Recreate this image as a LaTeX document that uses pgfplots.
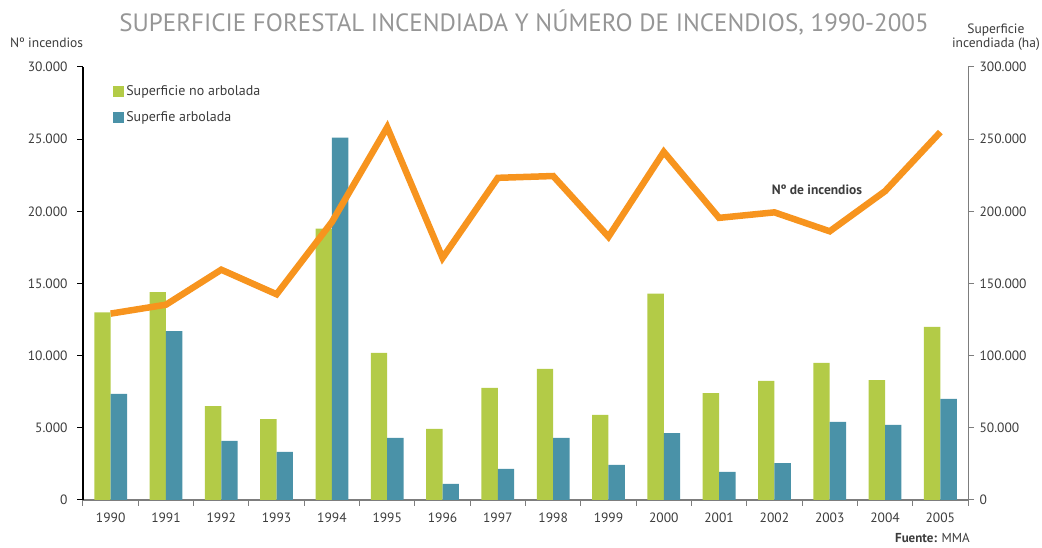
\documentclass[border=0pt]{standalone}
\usepackage{pgfplots}
\pgfplotsset{compat=1.18}
\usepackage{pgfplotstable}
\usepackage{fontspec}
\setmainfont{PT Sans}
\definecolor{cgreen}{RGB}{179,203,71}
\definecolor{cblue}{RGB}{74,146,168}
\definecolor{corange}{RGB}{247,148,30}
\definecolor{ctitle}{RGB}{150,150,150}
\definecolor{ctext}{RGB}{60,60,60}
\definecolor{caxis}{RGB}{125,125,125}
\pgfplotstableread{
x year noarb arb fires
0 1990 130000 73500 12913
1 1991 144000 117000 13531
2 1992 65100 40900 15955
3 1993 56100 33300 14254
4 1994 188000 251000 19263
5 1995 102000 43000 25827
6 1996 49200 11100 16771
7 1997 77600 21500 22320
8 1998 90800 43000 22446
9 1999 58900 24300 18237
10 2000 143000 46400 24118
11 2001 74000 19400 19547
12 2002 82500 25600 19929
13 2003 95000 54100 18616
14 2004 83000 52000 21396
15 2005 120000 70000 25492
}\data
\begin{document}
\begin{tikzpicture}
\useasboundingbox (-83pt,-48pt) rectangle (959pt,500pt);
\begin{axis}[
  at={(0pt,0pt)}, anchor=south west, scale only axis,
  width=885pt, height=433pt,
  xmin=-0.5, xmax=15.5, ymin=0, ymax=300000,
  axis y line*=right, axis x line*=bottom,
  x axis line style={draw=caxis, line width=1.2pt, -},
  y axis line style={draw=caxis, line width=1pt, -},
  xtick={0,...,15},
  xticklabels={1990,1991,1992,1993,1994,1995,1996,1997,1998,1999,2000,2001,2002,2003,2004,2005},
  minor xtick={-0.5,0.5,...,15.5},
  major x tick style={draw=none},
  minor x tick style={draw=caxis, line width=1pt},
  minor tick length=6pt,
  tick align=outside,
  ytick={0,50000,...,300000},
  major tick length=6pt,
  y tick style={draw=caxis, line width=1pt},
  scaled y ticks=false,
  /pgf/number format/.cd, fixed, 1000 sep={.}, assume math mode=true,
  /pgfplots/.cd,
  ticklabel style={font=\fontsize{13.5}{15}\selectfont, text=ctext},
  xticklabel style={yshift=-3pt},
  yticklabel style={xshift=2pt},
  ybar=0pt, bar width=16.4pt,
  legend style={draw=none, fill=none, at={(rel axis cs:0.034,0.962)}, anchor=north west,
    inner sep=0pt, row sep=10pt, font=\fontsize{14}{16}\selectfont, text=ctext,
    nodes={inner sep=2pt}},
  legend cell align=left,
  legend image code/.code={\fill[#1] (0pt,-6pt) rectangle (11pt,5pt);},
]
\addplot[fill=cgreen, draw=none] table[x=x, y=noarb] {\data};
\addplot[fill=cblue, draw=none] table[x=x, y=arb] {\data};
\legend{Superficie no arbolada, Superfie arbolada}
\end{axis}
\begin{axis}[
  at={(0pt,0pt)}, anchor=south west, scale only axis,
  width=885pt, height=433pt,
  xmin=-0.5, xmax=15.5, ymin=0, ymax=30000,
  axis y line*=left, axis x line=none,
  y axis line style={draw=black, line width=1.2pt, -},
  ytick={0,5000,...,30000},
  tick align=outside, major tick length=6pt,
  y tick style={draw=black, line width=1pt},
  scaled y ticks=false,
  /pgf/number format/.cd, fixed, 1000 sep={.}, assume math mode=true,
  /pgfplots/.cd,
  ticklabel style={font=\fontsize{13.5}{15}\selectfont, text=ctext},
  yticklabel style={xshift=-6pt},
]
\addplot[corange, line width=6.5pt, line join=miter, mark=none] table[x=x, y=fires] {\data};
\node[font=\bfseries\fontsize{13.5}{15}\selectfont, text=ctext] at (axis cs:12.77,21480) {Nº de incendios};
\end{axis}
\node[font=\fontsize{25}{28}\selectfont, text=ctitle] at (441pt,478pt) {SUPERFICIE FORESTAL INCENDIADA Y NÚMERO DE INCENDIOS, 1990-2005};
\node[anchor=west, font=\fontsize{13.5}{15}\selectfont, text=ctext, inner sep=0pt] at (-73pt,457pt) {Nº incendios};
\node[anchor=east, align=center, font=\fontsize{13.5}{14}\selectfont, text=ctext, inner sep=0pt] at (957pt,463pt) {Superficie\\incendiada (ha)};
\node[anchor=east, font=\fontsize{13}{15}\selectfont, text=ctext, inner sep=0pt] at (887pt,-38pt) {\textbf{Fuente:} MMA};
\end{tikzpicture}
\end{document}
